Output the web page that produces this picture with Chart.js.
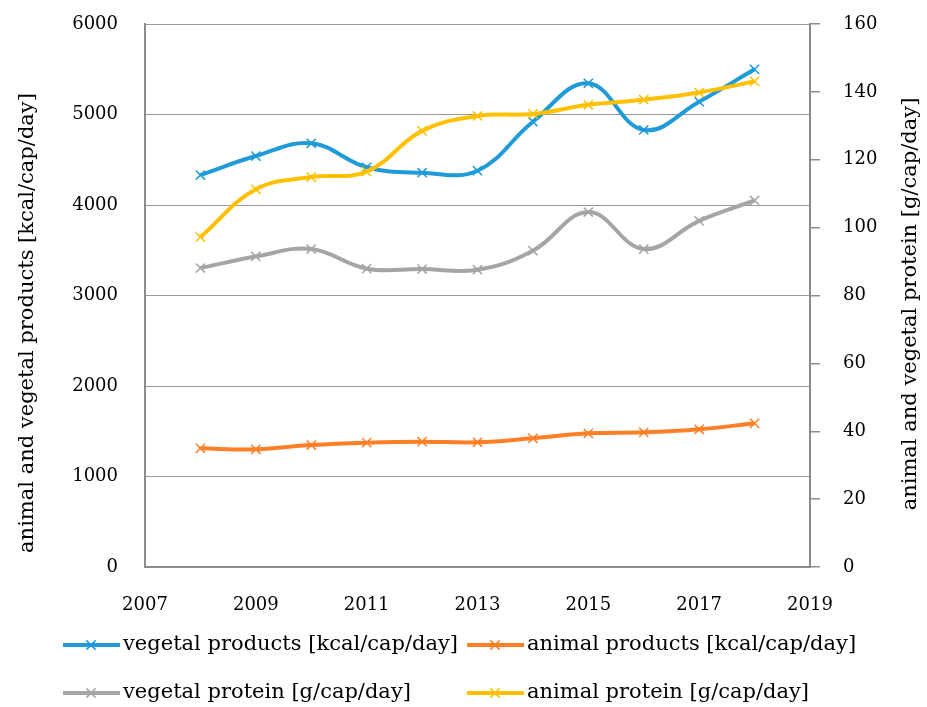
<!DOCTYPE html>
<html>
<head>
<meta charset="utf-8">
<script src="https://cdn.jsdelivr.net/npm/chart.js@4.4.1/dist/chart.umd.min.js"></script>
<style>
  html, body { margin: 0; padding: 0; background: #fff; }
</style>
</head>
<body>
<canvas id="myChart" width="927" height="707"></canvas>
<script>
const years = [2008, 2009, 2010, 2011, 2012, 2013, 2014, 2015, 2016, 2017, 2018]
const vegetalProducts = [4331, 4541, 4682, 4417, 4357, 4379, 4920, 5345, 4829, 5141, 5499]
const animalProducts = [1312, 1301, 1348, 1374, 1385, 1378, 1422, 1477, 1488, 1522, 1588]
const vegetalProtein = [88.1, 91.5, 93.7, 87.9, 87.8, 87.6, 93.2, 104.6, 93.7, 102.0, 108.0]
const animalProtein = [97.2, 111.3, 114.9, 116.5, 128.5, 132.9, 133.5, 136.2, 137.7, 139.8, 143.1]

const seriesLabels = [
  'vegetal products [kcal/cap/day]',
  'animal products [kcal/cap/day]',
  'vegetal protein [g/cap/day]',
  'animal protein [g/cap/day]',
]
const seriesColors = ['#1f9bd7', '#ff7f27', '#a5a5a5', '#ffc000']
const leftTitle = 'animal and vegetal products [kcal/cap/day]'
const rightTitle = 'animal and vegetal protein [g/cap/day]'

const fontFamily = "'DejaVu Serif', serif"
const axisGray = '#8c8c8c'

const toPoints = (values) => values.map((v, i) => ({ x: years[i], y: v }))

function makeDataset(index, values, axis, order) {
  return {
    label: seriesLabels[index],
    data: toPoints(values),
    yAxisID: axis,
    borderColor: seriesColors[index],
    backgroundColor: seriesColors[index],
    borderWidth: 4,
    tension: 0.4,
    pointStyle: 'crossRot',
    pointRadius: 6.5,
    pointBorderWidth: 1.5,
    pointBorderColor: seriesColors[index],
    order: order,
  }
}

const data = {
  datasets: [
    makeDataset(0, vegetalProducts, 'y', 3),
    makeDataset(1, animalProducts, 'y', 2),
    makeDataset(2, vegetalProtein, 'y2', 1),
    makeDataset(3, animalProtein, 'y2', 0),
  ],
}

// axis titles and legend drawn by hand to match the original placement
const extras = {
  id: 'extras',
  afterDraw(chart) {
    const { ctx } = chart
    ctx.save()
    ctx.fillStyle = '#000'
    ctx.font = `21px ${fontFamily}`
    ctx.textAlign = 'center'
    ctx.textBaseline = 'middle'

    ctx.save()
    ctx.translate(28, 323)
    ctx.rotate(-Math.PI / 2)
    ctx.fillText(leftTitle, 0, 0)
    ctx.restore()

    ctx.save()
    ctx.translate(911, 304)
    ctx.rotate(-Math.PI / 2)
    ctx.fillText(rightTitle, 0, 0)
    ctx.restore()

    const spots = [
      [63, 645],
      [467, 645],
      [63, 693],
      [467, 693],
    ]
    chart.data.datasets.forEach((ds, i) => {
      const [x, y] = spots[i]
      ctx.strokeStyle = ds.borderColor
      ctx.lineWidth = 4
      ctx.beginPath()
      ctx.moveTo(x, y)
      ctx.lineTo(x + 57, y)
      ctx.stroke()
      ctx.lineWidth = 1.5
      Chart.helpers.drawPoint(ctx, { pointStyle: 'crossRot', radius: 6.5, rotation: 0, borderWidth: 1.5 }, x + 28, y)
      ctx.fillStyle = '#000'
      ctx.textAlign = 'left'
      ctx.font = `21px ${fontFamily}`
      ctx.fillText(ds.label, x + 60, y)
    })
    ctx.restore()
  },
}

const noVerticalPadding = (scale) => {
  scale.paddingTop = 0
  scale.paddingBottom = 0
}

const config = {
  type: 'line',
  data: data,
  options: {
    responsive: false,
    animation: false,
    layout: { padding: { top: 24, left: 0, right: 0, bottom: 0 } },
    plugins: {
      legend: { display: false },
      tooltip: { enabled: false },
    },
    scales: {
      x: {
        type: 'linear',
        min: 2007,
        max: 2019,
        ticks: {
          stepSize: 2,
          padding: 20,
          color: '#000',
          font: { family: fontFamily, size: 18 },
          callback: (v) => String(v),
        },
        grid: { display: false },
        border: { display: true, color: axisGray, width: 2 },
        afterFit(scale) {
          scale.height = 140
        },
      },
      y: {
        position: 'left',
        min: 0,
        max: 6000,
        ticks: {
          stepSize: 1000,
          padding: 27,
          color: '#000',
          font: { family: fontFamily, size: 18 },
          callback: (v) => String(v),
        },
        grid: { color: '#999999', lineWidth: 1, drawTicks: false },
        border: { display: true, color: axisGray, width: 2 },
        afterFit(scale) {
          scale.width = 145
          noVerticalPadding(scale)
        },
      },
      y2: {
        position: 'right',
        min: 0,
        max: 160,
        ticks: {
          stepSize: 20,
          padding: 23,
          color: '#000',
          font: { family: fontFamily, size: 18 },
          callback: (v) => String(v),
        },
        grid: {
          drawOnChartArea: false,
          drawTicks: true,
          tickLength: 10,
          color: axisGray,
          lineWidth: 1.5,
        },
        border: { display: true, color: axisGray, width: 2 },
        afterFit(scale) {
          scale.width = 117
          noVerticalPadding(scale)
        },
      },
    },
  },
  plugins: [extras],
}

const myChart = new Chart(document.getElementById('myChart'), config)
</script>
</body>
</html>
